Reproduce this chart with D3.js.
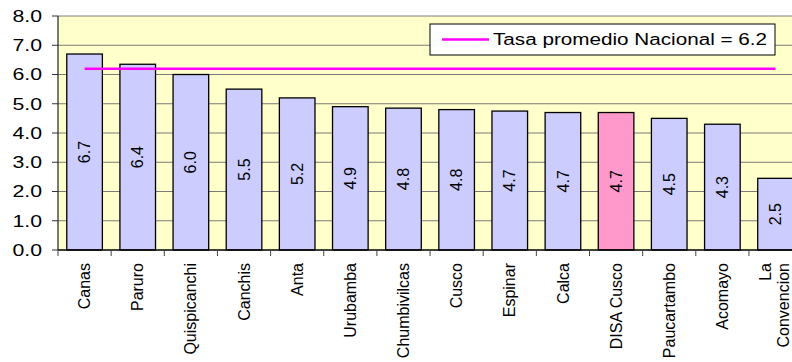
<!DOCTYPE html>
<html>
<head>
<meta charset="utf-8">
<script src="https://cdn.jsdelivr.net/npm/d3@7"></script>
<style>
  body { margin: 0; background: #fff; }
  text { font-family: Arial, "Liberation Sans", sans-serif; }
</style>
</head>
<body>
<div id="chart"></div>
<script>
// DATA ///////////////////////////////////////////////////////////////////////
const provincias = ["Canas", "Paruro", "Quispicanchi", "Canchis", "Anta", "Urubamba",
  "Chumbivilcas", "Cusco", "Espinar", "Calca", "DISA Cusco", "Paucartambo", "Acomayo",
  "La Convencion"];
const tasas = [6.7, 6.35, 6.0, 5.5, 5.2, 4.9, 4.85, 4.8, 4.75, 4.7, 4.7, 4.5, 4.3, 2.45];
const etiquetas = ["6.7", "6.4", "6.0", "5.5", "5.2", "4.9", "4.8", "4.8", "4.7", "4.7", "4.7", "4.5", "4.3", "2.5"];
const promedioNacional = 6.2;
const yTicks = [0, 1, 2, 3, 4, 5, 6, 7, 8];
const destacado = "DISA Cusco";

// CHART //////////////////////////////////////////////////////////////////////
const w = 792, h = 362;
const mLeft = 58, mTop = 16, mBottom = 250;
const step = 53.15;

const svg = d3.select("#chart").append("svg")
  .attr("width", w).attr("height", h);

const x = d3.scaleBand()
  .domain(provincias)
  .range([mLeft, mLeft + step * provincias.length])
  .padding(0);

const y = d3.scaleLinear().domain([0, 8]).range([mBottom, mTop]);

// plot background
svg.append("rect")
  .attr("x", mLeft).attr("y", mTop)
  .attr("width", w - mLeft).attr("height", mBottom - mTop)
  .attr("fill", "#FFFFCC");

// gridlines
svg.selectAll(".grid")
  .data(yTicks.slice(1))
  .enter().append("line")
  .attr("x1", mLeft).attr("x2", w)
  .attr("y1", d => y(d)).attr("y2", d => y(d))
  .attr("stroke", "#7a7a7a").attr("stroke-width", 1);

// bars
const barPad = x.bandwidth() * 0.165;
svg.selectAll(".bar")
  .data(provincias)
  .enter().append("rect")
  .attr("x", d => x(d) + barPad)
  .attr("y", (d, i) => y(tasas[i]))
  .attr("width", x.bandwidth() - 2 * barPad)
  .attr("height", (d, i) => mBottom - y(tasas[i]))
  .attr("fill", d => d === destacado ? "#FF99CC" : "#CCCCFF")
  .attr("stroke", "#000").attr("stroke-width", 1.3);

// value labels inside bars
svg.selectAll(".val")
  .data(provincias)
  .enter().append("text")
  .attr("transform", (d, i) => {
    const cx = x(d) + x.bandwidth() / 2;
    const cy = (y(tasas[i]) + mBottom) / 2;
    return "translate(" + cx + "," + cy + ") rotate(-90)";
  })
  .attr("text-anchor", "middle")
  .attr("dy", "0.35em")
  .attr("font-size", "16px")
  .text((d, i) => etiquetas[i]);

// average line
svg.append("line")
  .attr("x1", x(provincias[0]) + x.bandwidth() / 2)
  .attr("x2", x(provincias[provincias.length - 1]) + x.bandwidth() / 2)
  .attr("y1", y(promedioNacional)).attr("y2", y(promedioNacional))
  .attr("stroke", "#FF00FF").attr("stroke-width", 2.5);

// y axis
svg.append("line")
  .attr("x1", mLeft).attr("x2", mLeft)
  .attr("y1", mTop).attr("y2", mBottom)
  .attr("stroke", "#333").attr("stroke-width", 1.3);

svg.selectAll(".ytick")
  .data(yTicks)
  .enter().append("line")
  .attr("x1", mLeft - 6).attr("x2", mLeft)
  .attr("y1", d => y(d)).attr("y2", d => y(d))
  .attr("stroke", "#333");

svg.selectAll(".ylab")
  .data(yTicks)
  .enter().append("text")
  .attr("transform", d => "translate(" + (mLeft - 16) + "," + y(d) + ") scale(1.33,1)")
  .attr("text-anchor", "end")
  .attr("dy", "0.36em")
  .attr("font-size", "16px")
  .text(d => d.toFixed(1));

// x axis
svg.append("line")
  .attr("x1", mLeft).attr("x2", w)
  .attr("y1", mBottom).attr("y2", mBottom)
  .attr("stroke", "#000").attr("stroke-width", 1.3);

svg.selectAll(".xtick")
  .data(provincias)
  .enter().append("line")
  .attr("x1", d => x(d)).attr("x2", d => x(d))
  .attr("y1", mBottom).attr("y2", mBottom + 6)
  .attr("stroke", "#444");

// category labels (two lines for "La Convencion")
const xlab = svg.selectAll(".xlab")
  .data(provincias)
  .enter().append("text")
  .attr("transform", d => "translate(" + (x(d) + x.bandwidth() / 2) + "," + (mBottom + 13) + ") rotate(-90)")
  .attr("text-anchor", "end")
  .attr("font-size", "16px");

xlab.each(function(d) {
  const parts = d === "La Convencion" ? ["La", "Convencion"] : [d];
  const t = d3.select(this);
  parts.forEach((p, i) => {
    t.append("tspan")
      .attr("x", 0)
      .attr("dy", parts.length === 1 ? "0.35em" : (i === 0 ? "-0.3em" : "1.15em"))
      .text(p);
  });
});

// legend
const lg = svg.append("g").attr("transform", "translate(430,24)");
lg.append("rect")
  .attr("width", 345).attr("height", 31)
  .attr("fill", "#fff").attr("stroke", "#000").attr("stroke-width", 1);
lg.append("line")
  .attr("x1", 12).attr("x2", 59).attr("y1", 15.5).attr("y2", 15.5)
  .attr("stroke", "#FF00FF").attr("stroke-width", 2.5);
lg.append("text")
  .attr("x", 63).attr("y", 21)
  .attr("font-size", "16px")
  .attr("textLength", 274)
  .attr("lengthAdjust", "spacingAndGlyphs")
  .text("Tasa promedio Nacional = " + promedioNacional.toFixed(1));
</script>
</body>
</html>
